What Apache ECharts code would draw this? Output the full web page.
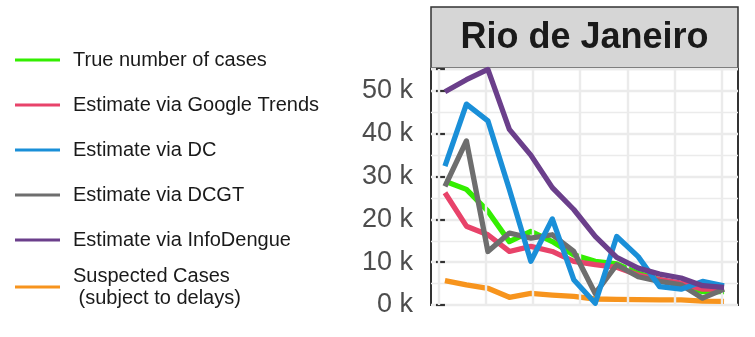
<!DOCTYPE html>
<html>
<head>
<meta charset="utf-8">
<style>
  html, body { margin: 0; padding: 0; background: #ffffff; }
  #chart { width: 755px; height: 337px; }
</style>
<script src="https://cdn.jsdelivr.net/npm/echarts@6/dist/echarts.min.js"></script>
</head>
<body>
<div id="chart"></div>
<script>
// Weekly dengue case counts, Rio de Janeiro (week index 0..13)
const weeks = [0, 1, 2, 3, 4, 5, 6, 7, 8, 9, 10, 11, 12, 13];

const trueCases      = [28900, 27000, 21900, 14800, 17200, 14800, 11700, 10200, 9600, 7400, 5900, 4900, 3100, 3100];
const googleTrends   = [26200, 18400, 16400, 12500, 13700, 12500, 10200, 9400, 8800, 7000, 5900, 5100, 3700, 3700];
const dcEstimate     = [32400, 46900, 43000, 27000, 10200, 20100, 5900, 400, 16000, 11300, 4300, 3700, 5500, 4500];
const dcgtEstimate   = [27700, 38300, 12500, 16800, 15600, 16400, 12500, 2700, 9400, 6600, 5500, 4700, 1600, 3700];
const infoDengue     = [49800, 52600, 55000, 41000, 35000, 27400, 22300, 16000, 11100, 8600, 7200, 6300, 4500, 4100];
const suspectedCases = [5700, 4700, 3900, 1800, 2700, 2300, 2000, 1400, 1300, 1250, 1200, 1200, 900, 860];

// Month starts and mid-month positions, in week units
const dateGridWeeks = [-0.3, 1.9, 4.1, 6.3, 8.5, 10.7, 12.9];

const yTicks = [0, 10000, 20000, 30000, 40000, 50000];

const seriesNames = [
  'True number of cases',
  'Estimate via Google Trends',
  'Estimate via DC',
  'Estimate via DCGT',
  'Estimate via InfoDengue',
  'Suspected Cases\n (subject to delays)'
];
const seriesColors = ['#33EE00', '#E8436A', '#1A8FD8', '#6E6E6E', '#6B3F8B', '#F7941D'];
const seriesValues = [trueCases, googleTrends, dcEstimate, dcgtEstimate, infoDengue, suspectedCases];
// drawing order (bottom to top)
const drawOrder = [5, 0, 1, 3, 2, 4];

const FONT = 'Liberation Sans, Arial, sans-serif';
const chart = echarts.init(document.getElementById('chart'), null, { renderer: 'canvas' });

const pairs = arr => weeks.map((w, i) => [w, arr[i]]);

const lineSeries = drawOrder.map((idx, k) => ({
  name: seriesNames[idx],
  type: 'line',
  data: pairs(seriesValues[idx]),
  showSymbol: false,
  symbol: 'none',
  lineStyle: { width: 5.3, color: seriesColors[idx], join: 'round', cap: 'butt' },
  itemStyle: { color: seriesColors[idx] },
  z: 3 + k,
  animation: false,
  clip: true
}));

// vertical date gridlines
const gridSeries = {
  name: '_dateGrid',
  type: 'line',
  data: [],
  z: 1,
  silent: true,
  animation: false,
  markLine: {
    silent: true,
    symbol: ['none', 'none'],
    label: { show: false },
    lineStyle: { color: '#EBEBEB', width: 2.4, type: 'solid' },
    emphasis: { disabled: true },
    animation: false,
    data: dateGridWeeks.map(v => ({ xAxis: v }))
  }
};

const LEGEND_FS = 20;
const LEGEND_LH = 22;
const legendTops = [60, 105, 150, 195, 240, 287];
const legends = seriesNames.map((name, i) => {
  const lines = name.split('\n').length;
  return {
    data: [name],
    left: 15,
    top: legendTops[i] - (lines * LEGEND_LH) / 2,
    orient: 'vertical',
    icon: 'rect',
    itemWidth: 45,
    itemHeight: 3,
    itemGap: 0,
    itemTextGap: 13,
    selectedMode: false,
    padding: 0,
    textStyle: {
      fontFamily: FONT, fontSize: LEGEND_FS, color: '#1A1A1A', lineHeight: LEGEND_LH,
      padding: [0, 0, 0, 8]
    }
  };
});

chart.setOption({
  backgroundColor: '#ffffff',
  animation: false,
  legend: legends,
  grid: {
    left: 431, top: 69, width: 307, height: 236,
    show: true, borderColor: '#333333', borderWidth: 2, backgroundColor: '#ffffff',
    containLabel: false
  },
  xAxis: {
    type: 'value',
    min: -0.65, max: 13.65,
    axisLine: { show: false },
    axisTick: { show: false },
    axisLabel: { show: false },
    splitLine: { show: false }
  },
  yAxis: {
    type: 'value',
    min: 0, max: 55100,
    interval: 10000,
    axisLine: { show: false },
    axisTick: { show: true, inside: false, length: 9, lineStyle: { color: '#333333', width: 2.2 } },
    axisLabel: {
      show: true, margin: 18,
      fontFamily: FONT, fontSize: 27, color: '#4D4D4D',
      formatter: v => (yTicks.includes(v) ? (v / 1000) + ' k' : '')
    },
    splitLine: { show: true, lineStyle: { color: '#EBEBEB', width: 2.4 } },
    minorTick: { show: false, splitNumber: 2 },
    minorSplitLine: { show: true, lineStyle: { color: '#EBEBEB', width: 1.3 } }
  },
  graphic: [
    {
      type: 'group',
      children: [
        {
          type: 'rect',
          shape: { x: 431, y: 7, width: 307, height: 61 },
          style: { fill: '#D6D6D6', stroke: '#333333', lineWidth: 1.5 }
        },
        {
          type: 'text',
          x: 584.5, y: 38,
          style: {
            text: 'Rio de Janeiro',
            fontFamily: FONT, fontWeight: 'bold', fontSize: 36,
            fill: '#1A1A1A', align: 'center', verticalAlign: 'middle'
          }
        }
      ]
    }
  ],
  series: [gridSeries].concat(lineSeries)
});
</script>
</body>
</html>
